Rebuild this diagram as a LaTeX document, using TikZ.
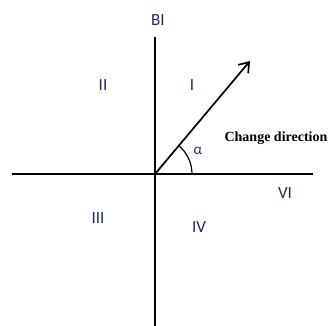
\documentclass[tikz,border=0pt]{standalone}
\usepackage{fontspec}
\setmainfont{Liberation Serif}
\newfontfamily\quadfont{Carlito}
\usetikzlibrary{arrows.meta,positioning,calc}
\definecolor{quadblue}{RGB}{30,45,95}

\begin{document}
\begin{tikzpicture}[
		x=1pt, y=-1pt,
		axis/.style={line width=1.7pt},
		quad/.style={font=\quadfont\fontsize{17}{19}\selectfont, text=quadblue, inner sep=0pt},
		note/.style={font=\bfseries\fontsize{14}{16}\selectfont, inner sep=0pt},
		arr/.style={-{Straight Barb[length=3.2mm, width=4.6mm, line width=1.7pt]}, line width=1.7pt}
		]
		\useasboundingbox (0,0) rectangle (329,326);
		
		\coordinate (o) at (155,174);
		\coordinate (top) at (155,37);
		\coordinate (bottom) at (155,326);
		\coordinate (left) at (12,174);
		\coordinate (right) at (313,174);
		\coordinate (tip) at (250,61);
		
		\draw[axis] (top) -- (bottom);
		\draw[axis] (left) -- (right);
		\draw[arr] (o) -- (tip);
		\draw[line width=1.2pt] ($(o)+(37,0)$) arc[start angle=0, end angle=-50, radius=37];
		
		\node[quad] (bi) at (158,20) {BI};
		\node[quad] (q2) at (103,85) {II};
		\node[quad] (q1) at (192,85) {I};
		\node[quad] (q3) at (98,218) {III};
		\node[quad] (q4) at (199,227) {IV};
		\node[quad] (q6) at (285,193) {VI};
		\node[quad, font=\quadfont\fontsize{15}{17}\selectfont] (alpha) at (198,151) {α};
		\node[note] (dir) at (276,138) {Change direction};
		
	\end{tikzpicture}
\end{document}
